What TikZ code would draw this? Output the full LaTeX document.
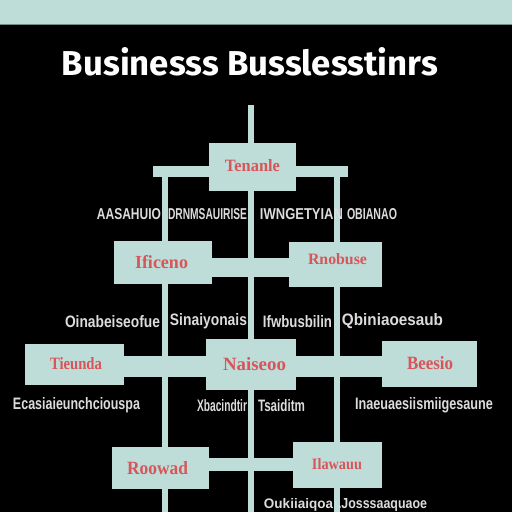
\documentclass[tikz,border=0pt]{standalone}
\usepackage{fontspec}
\setmainfont{Liberation Sans}
\newfontfamily\titlefont{Fira Sans}
\newfontfamily\labfont{Liberation Serif}
\usepackage{graphicx}
\definecolor{teal1}{HTML}{BEDCD8}
\definecolor{tealdark}{HTML}{6E8C88}
\definecolor{redlab}{HTML}{D8555A}
\definecolor{gtext}{HTML}{DCDCDC}
\pgfdeclarelayer{back}
\pgfdeclarelayer{bg}
\pgfsetlayers{back,bg,main}
\tikzset{
  box/.style={fill=teal1, draw=none, inner sep=0pt, minimum width=#1},
  lab/.style={text=redlab, inner sep=0pt, font=\labfont\bfseries},
  rowtext/.style={text=gtext, inner sep=0pt, font=\bfseries},
  conn/.style={draw=teal1, line width=6pt},
  barc/.style={draw=teal1, line width=#1},
}
\newcommand{\fit}[3]{\resizebox{#1pt}{#2pt}{#3}}
\begin{document}
\begin{tikzpicture}[x=1pt,y=-1pt]
\useasboundingbox (0,0) rectangle (512,512);
\begin{pgfonlayer}{back}
\fill[black] (0,0) rectangle (512,512);
\fill[teal1] (0,0) rectangle (512,24);
\draw[tealdark, line width=1pt] (0,24) -- (512,24);
\end{pgfonlayer}
% title
\node[text=white, inner sep=0pt, font=\titlefont\bfseries] (title) at (250,61.5) {\fit{376}{28}{Businesss Busslesstinrs}};
% boxes
\node[box=87pt, minimum height=48pt] (b1) at (252.5,167) {};
\node[box=98pt, minimum height=43pt] (b2L) at (163,262.5) {};
\node[box=93pt, minimum height=45pt] (b2R) at (335.5,264.5) {};
\node[box=99pt, minimum height=41pt] (b3L) at (74.5,364.5) {};
\node[box=90pt, minimum height=51pt] (b3C) at (251,364.5) {};
\node[box=95pt, minimum height=46pt] (b3R) at (429.5,364) {};
\node[box=97pt, minimum height=42pt] (b4L) at (160.5,468) {};
\node[box=89pt, minimum height=46pt] (b4R) at (337.5,465) {};
% box labels
\node[lab] (l1) at (252.5,166) {\fit{55}{12}{Tenanle}};
\node[lab] (l2L) at (161.5,262.5) {\fit{53}{13}{Ificeno}};
\node[lab] (l2R) at (337.5,259.5) {\fit{59}{11}{Rnobuse}};
\node[lab] (l3L) at (76,364) {\fit{52}{12}{Tieunda}};
\node[lab] (l3C) at (254.5,364) {\fit{63}{13}{Naiseoo}};
\node[lab] (l3R) at (430,363.5) {\fit{46}{13}{Beesio}};
\node[lab] (l4L) at (157.5,468.5) {\fit{61}{13}{Roowad}};
\node[lab] (l4R) at (337,464.5) {\fit{50}{11}{Ilawauu}};
% coordinates for line ends
\coordinate (ctop) at (250.5,105);
\coordinate (cbot) at (250.5,512);
\coordinate (lbar) at (153,171);
\coordinate (rbar) at (348,171);
\coordinate (ltop) at (165,171);
\coordinate (lbot) at (165,512);
\coordinate (rtop) at (337,171);
\coordinate (rbot) at (337,512);
\begin{pgfonlayer}{bg}
\draw[conn] (ctop) -- (cbot);
\draw[conn] (ltop) -- (lbot);
\draw[conn] (rtop) -- (rbot);
\draw[barc=11pt] (lbar) -- (rbar);
\draw[barc=19pt] (b2L.east |- 0,267.5) -- (b2R.west |- 0,267.5);
\draw[barc=21pt] (b3L.east |- 0,366) -- (b3R.west |- 0,366);
\draw[barc=13pt] (b4L.east |- 0,464.5) -- (b4R.west |- 0,464.5);
\end{pgfonlayer}
% row texts
\node[rowtext] (t2a) at (129,214.5) {\fit{64}{11}{AASAHUIO}};
\node[rowtext] (t2b) at (207.5,214.5) {\fit{79}{11}{DRNMSAUIRISE}};
\node[rowtext] (t2c) at (301.5,214.5) {\fit{83}{11}{IWNGETYIAN}};
\node[rowtext] (t2d) at (372,214.5) {\fit{50}{11}{OBIANAO}};
\node[rowtext] (t4a) at (112.5,321.5) {\fit{95}{12}{Oinabeiseofue}};
\node[rowtext] (t4b) at (208.5,321.5) {\fit{77}{12}{Sinaiyonais}};
\node[rowtext] (t4c) at (297.5,321.5) {\fit{69}{12}{Ifwbusbilin}};
\node[rowtext] (t4d) at (392.5,321.5) {\fit{101}{12}{Qbiniaoesaub}};
\node[rowtext] (t6a) at (76.5,405.5) {\fit{127}{12}{Ecasiaieunchciouspa}};
\node[rowtext] (t6b) at (222,405.5) {\fit{50}{12}{Xbacindtir}};
\node[rowtext] (t6c) at (281.5,405.5) {\fit{47}{12}{Tsaiditm}};
\node[rowtext] (t6d) at (424,405.5) {\fit{138}{12}{Inaeuaesiismiigesaune}};
\node[rowtext] (t8a) at (298.5,505) {\fit{69}{10}{Oukiiaiqoa}};
\node[rowtext] (t8b) at (382.5,505) {\fit{89}{10}{.Josssaaquaoe}};
\end{tikzpicture}
\end{document}
